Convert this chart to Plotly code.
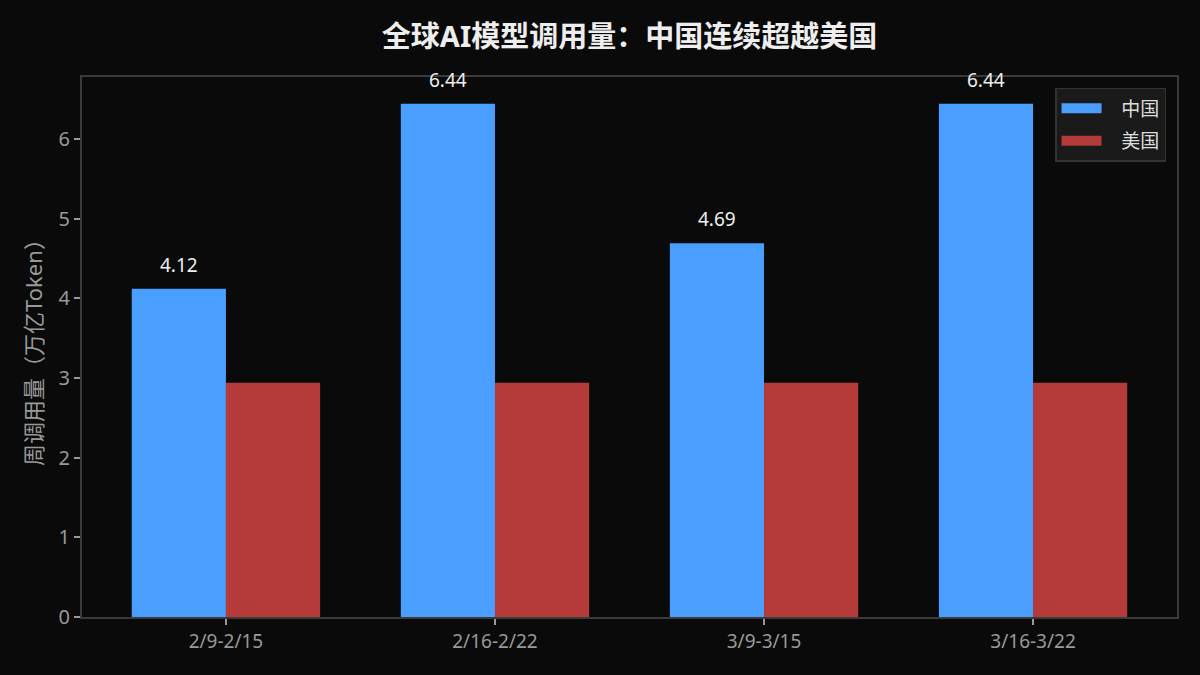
import plotly.graph_objects as go

weeks = ['2/9-2/15', '2/16-2/22', '3/9-3/15', '3/16-3/22']
china = [4.12, 6.44, 4.69, 6.44]
usa = [2.94, 2.94, 2.94, 2.94]

font = 'Noto Sans, Noto Sans CJK SC, sans-serif'
blue = '#4a9eff'
red = '#b53a3a'

fig = go.Figure()
fig.add_trace(go.Bar(x=weeks, y=china, name='中国', marker_color=blue,
                     marker_line_width=0, showlegend=False))
fig.add_trace(go.Bar(x=weeks, y=usa, name='美国', marker_color=red,
                     marker_line_width=0, showlegend=False))
# legend entries drawn as wide swatches
for name, col in [('中国', blue), ('美国', red)]:
    fig.add_trace(go.Scatter(x=[None], y=[None], mode='lines', name='   ' + name,
                             legendgroup=name, line=dict(color=col, width=14)))

# value labels above the China bars
for w, v in zip(weeks, china):
    fig.add_annotation(x=w, y=v, text=f'{v:.2f}', showarrow=False,
                       xshift=-47, yshift=9, yanchor='bottom',
                       font=dict(size=19, color='#eeeeee', family=font))

fig.update_layout(
    width=1200, height=675,
    paper_bgcolor='#0a0a0a', plot_bgcolor='#0a0a0a',
    font=dict(family=font, color='#999999', size=19),
    title=dict(text='<b>全球AI模型调用量：中国连续超越美国</b>', xref='paper', x=0.5,
               xanchor='center', yref='container', y=0.945, yanchor='middle',
               font=dict(size=29, color='#eeeeee')),
    barmode='group', bargap=0.3, bargroupgap=0,
    margin=dict(l=82, r=23, t=77, b=58),
    showlegend=True,
    legend=dict(x=0.99, y=0.98, xanchor='right', yanchor='top',
                bgcolor='#1a1a1a', bordercolor='#333333', borderwidth=1.5,
                font=dict(size=19, color='#dddddd'), itemwidth=40,
                traceorder='grouped', tracegroupgap=5),
)
fig.update_xaxes(range=[-0.535, 3.535], showline=True, linecolor='#3a3a3a', linewidth=2,
                 mirror=True, ticks='outside', tickcolor='#999999', ticklen=6, tickwidth=2,
                 showgrid=False, tickfont=dict(size=19, color='#999999'))
fig.update_yaxes(range=[0, 6.776], showline=True, linecolor='#3a3a3a', linewidth=2,
                 mirror=True, ticks='outside', tickcolor='#999999', ticklen=6, tickwidth=2,
                 showgrid=False, zeroline=False, dtick=1,
                 tickfont=dict(size=20, color='#999999'),
                 title=dict(text='周调用量（万亿Token）', font=dict(size=22, color='#999999'),
                            standoff=10))

fig.write_html('out.html', config={'displayModeBar': False},
               post_script="document.body.style.margin='0';"
               "document.body.style.background='#0a0a0a';")
